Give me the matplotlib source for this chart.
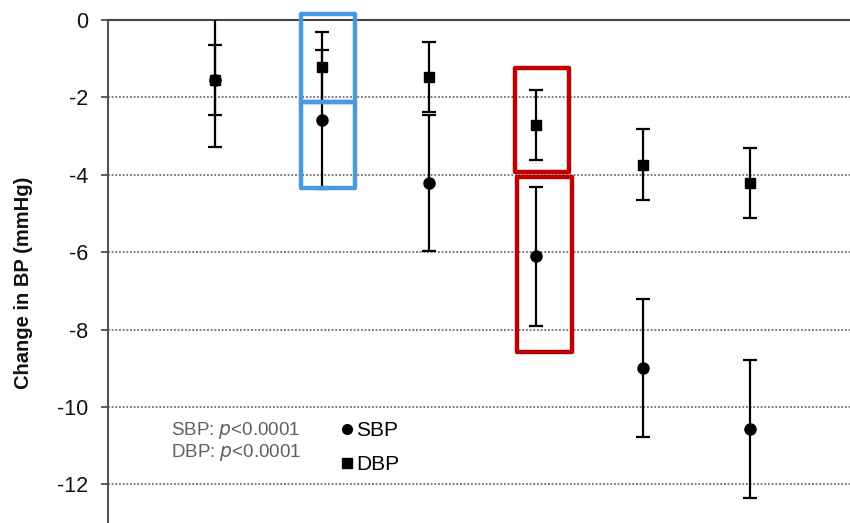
import matplotlib
matplotlib.use("Agg")
import matplotlib.pyplot as plt
from matplotlib.patches import Rectangle
from matplotlib.lines import Line2D

plt.rcParams['font.family'] = ['Liberation Sans', 'DejaVu Sans']

# values (mmHg)
groups = [1, 2, 3, 4, 5, 6]
sbp_mean = [-1.55, -2.58, -4.21, -6.11, -8.99, -10.57]
sbp_err = [1.72, 1.80, 1.76, 1.79, 1.78, 1.78]
dbp_mean = [-1.55, -1.21, -1.47, -2.71, -3.74, -4.21]
dbp_err = [0.91, 0.90, 0.91, 0.90, 0.91, 0.91]

fig = plt.figure(figsize=(8.5, 5.23), dpi=100)
ax = fig.add_axes([108 / 850, 0, 742 / 850, 503 / 523])

ax.errorbar(groups, sbp_mean, yerr=sbp_err, fmt='o', color='black', ms=8,
            elinewidth=1.6, capsize=5, capthick=1.6, zorder=3)
ax.errorbar(groups, dbp_mean, yerr=dbp_err, fmt='s', color='black', ms=7.5,
            elinewidth=1.6, capsize=5, capthick=1.6, zorder=4)

ax.set_xlim(0.0, 6.93)
ax.set_ylim(-13, 0)
ax.set_yticks(range(-12, 1, 2))
ax.set_yticklabels(['-12', '-10', '-8', '-6', '-4', '-2', '0'])
ax.set_xticks([])
ax.tick_params(axis='y', labelsize=15.5, length=5, width=1.2, color='#444444',
               pad=9, labelcolor='#111111')
for t in range(-12, 0, 2):
    ax.axhline(t, color='#555555', lw=1.1, ls=(0, (1.2, 1.2)), zorder=1)

ax.spines['right'].set_visible(False)
ax.spines['bottom'].set_visible(False)
ax.spines['top'].set_color('#444444')
ax.spines['top'].set_linewidth(1.5)
ax.spines['left'].set_color('#555555')
ax.spines['left'].set_linewidth(1.5)

ax.set_ylabel('Change in BP (mmHg)', fontsize=14.5, fontweight='bold', color='#111111')
ax.yaxis.set_label_coords(-0.101, 0.477)

ax.text(0.59, -10.9, 'SBP: $\\it{p}$<0.0001\nDBP: $\\it{p}$<0.0001', fontsize=13.5,
        color='#606060', va='center', linespacing=1.05)

handles = [Line2D([], [], marker='o', ls='none', color='black', ms=7),
           Line2D([], [], marker='s', ls='none', color='black', ms=6.5)]
ax.legend(handles, ['SBP', 'DBP'], loc='upper left', bbox_to_anchor=(0.29, 0.24),
          frameon=False, fontsize=15, handlelength=0.5, handletextpad=0.2,
          labelspacing=0.72)

# highlight boxes
blue = '#4A98E0'
red = '#C00000'
boxes = [
    (1.80, -2.12, 0.51, 2.27, blue),
    (1.80, -4.34, 0.51, 2.22, blue),
    (3.80, -3.92, 0.51, 2.68, red),
    (3.82, -8.59, 0.51, 4.54, red),
]
for x0, y0, w, h, c in boxes:
    ax.add_patch(Rectangle((x0, y0), w, h, fill=False, edgecolor=c, lw=3.2,
                           clip_on=False, zorder=5, joinstyle='round'))

fig.savefig('out.png', dpi=100)
